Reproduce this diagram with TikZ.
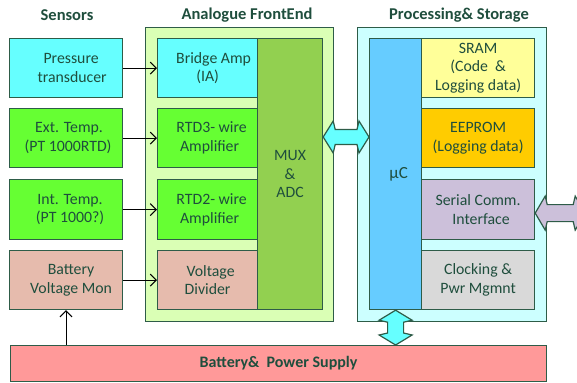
\documentclass[tikz,border=0pt]{standalone}
\usepackage{fontspec}
\setmainfont{Carlito}
\usetikzlibrary{calc,arrows.meta}
\definecolor{txt}{HTML}{1F4E3D}
\definecolor{edge}{HTML}{2E5C48}
\definecolor{cyanbox}{HTML}{66FFFF}
\definecolor{greenbox}{HTML}{66FF33}
\definecolor{rosebox}{HTML}{E6BBAD}
\definecolor{afebg}{HTML}{DAFFB5}
\definecolor{muxbox}{HTML}{92D050}
\definecolor{procbg}{HTML}{CCFFFF}
\definecolor{ucbox}{HTML}{66CCFF}
\definecolor{srambox}{HTML}{FFFF99}
\definecolor{eeprombox}{HTML}{FFCC00}
\definecolor{serialbox}{HTML}{CCC0DA}
\definecolor{clockbox}{HTML}{D9D9D9}
\definecolor{battbox}{HTML}{FF9999}
\tikzset{
  blk/.style={draw=edge, line width=1.2pt, rectangle, anchor=north west,
    inner sep=0pt, align=center, text=txt,
    font=\fontsize{15.8}{18.8}\selectfont},
  grp/.style={draw=edge, line width=1.2pt, rectangle, anchor=north west, inner sep=0pt},
  ttl/.style={text=txt, font=\fontsize{16.5}{19}\selectfont\bfseries},
  thin/.style={draw=black, line width=1pt, -{Straight Barb[length=6pt,width=12pt,line width=1pt]}},
  fat/.style={draw=edge, line width=1.2pt, line join=miter},
}
\begin{document}
\begin{tikzpicture}[x=1pt,y=-1pt]
\useasboundingbox (0,0) rectangle (577,382);
% group backgrounds
\node[grp, fill=afebg, minimum width=188pt, minimum height=294pt] (afe) at (145,27) {};
\node[grp, fill=procbg, minimum width=189pt, minimum height=294pt] (proc) at (357,27) {};
% titles
\node[ttl] (tsens) at (67,15) {Sensors};
\node[ttl] (tafe) at (247,15) {Analogue FrontEnd};
\node[ttl] (tproc) at (459,15) {Processing\&~Storage};
% sensors
\node[blk, fill=cyanbox, minimum width=113pt, minimum height=59pt] (pres) at (9,38) {\hspace*{10pt}Pressure\\\hspace*{12pt}transducer};
\node[blk, fill=greenbox, minimum width=113pt, minimum height=59pt] (ext) at (9,108) {\hspace*{6pt}Ext. Temp.\\\hspace*{4pt}(PT 1000RTD)};
\node[blk, fill=greenbox, minimum width=113pt, minimum height=60pt] (int) at (9,179) {\hspace*{8pt}Int. Temp.\\\hspace*{8pt}(PT 1000?)};
\node[blk, fill=rosebox, minimum width=113pt, minimum height=59pt] (bmon) at (9,250) {\hspace*{10pt}Battery\\\hspace*{10pt}Voltage Mon};
% analogue front end
\node[blk, fill=cyanbox, minimum width=100pt, minimum height=59pt] (bridge) at (157,38) {\hspace*{12pt}Bridge Amp\\(IA)};
\node[blk, fill=greenbox, minimum width=100pt, minimum height=59pt] (rtd3) at (157,108) {\hspace*{8pt}RTD3- wire\\\hspace*{4pt}Amplifier};
\node[blk, fill=greenbox, minimum width=100pt, minimum height=60pt] (rtd2) at (157,179) {\hspace*{8pt}RTD2- wire\\\hspace*{4pt}Amplifier};
\node[blk, fill=rosebox, minimum width=100pt, minimum height=59pt] (vdiv) at (157,250) {\hspace*{6pt}Voltage\\Divider};
\node[blk, fill=muxbox, minimum width=65pt, minimum height=271pt] (mux) at (257,38) {MUX\\\&\\ADC};
% processing
\node[blk, fill=ucbox, minimum width=52pt, minimum height=271pt, font=\fontsize{17}{20}\selectfont] (uc) at (369,38) {\hspace*{6pt}µC};
\node[blk, fill=srambox, minimum width=113pt, minimum height=59pt] (sram) at (421,38) {SRAM\\(Code~ \&\\Logging data)};
\node[blk, fill=eeprombox, minimum width=113pt, minimum height=59pt] (eeprom) at (421,108) {EEPROM\\(Logging data)};
\node[blk, fill=serialbox, minimum width=113pt, minimum height=60pt] (serial) at (421,179) {Serial Comm.\\\hspace*{6pt}Interface};
\node[blk, fill=clockbox, minimum width=113pt, minimum height=59pt] (clock) at (421,250) {Clocking \&\\Pwr Mgmnt};
% battery
\node[blk, fill=battbox, minimum width=536pt, minimum height=36pt, font=\fontsize{16}{19}\selectfont\bfseries] (batt) at (10,345) {Battery\&~ Power Supply};
% thin arrows
\draw[thin] (pres.east) -- (bridge.west);
\draw[thin] (ext.east) -- (rtd3.west);
\draw[thin] (int.east) -- (rtd2.west);
\draw[thin] (bmon.east) -- (vdiv.west);
\coordinate (bup) at (66,345);
\draw[thin] (bup) -- (bup |- bmon.south);
% big horizontal double arrow MUX <-> uC
\coordinate (ha) at (mux.east |- 0,137);
\coordinate (hb) at (uc.west |- 0,137);
\draw[fat, fill=cyanbox] (ha) -- ++(10,-16) -- ++(2,8.5) -- ($(hb)+(-12,-7.5)$) -- ++(2,-8.5) -- (hb)
  -- ++(-10,16) -- ++(-2,-8.5) -- ($(ha)+(12,7.5)$) -- ++(-2,8.5) -- cycle;
% vertical double arrow uC <-> battery
\coordinate (va) at (uc.south);
\coordinate (vb) at (uc.south |- batt.north);
\draw[fat, fill=cyanbox] (va) -- ++(16.5,10) -- ++(-8.5,2) -- ($(vb)+(8,-12)$) -- ++(8.5,2) -- (vb)
  -- ++(-16.5,-10) -- ++(8.5,-2) -- ($(va)+(-8,12)$) -- ++(-8.5,-2) -- cycle;
% serial comm double arrow to the outside
\begin{scope}
\clip (0,0) rectangle (577,382);
\coordinate (sa) at ($(serial.east)+(0,3.5)$);
\coordinate (sb) at ($(sa)+(50,0)$);
\draw[fat, fill=serialbox] (sa) -- ++(10,-17) -- ++(2,8.5) -- ($(sb)+(-12,-8.5)$) -- ++(2,-8.5) -- (sb)
  -- ++(-10,17) -- ++(-2,-8.5) -- ($(sa)+(12,8.5)$) -- ++(-2,8.5) -- cycle;
\end{scope}
\end{tikzpicture}
\end{document}
